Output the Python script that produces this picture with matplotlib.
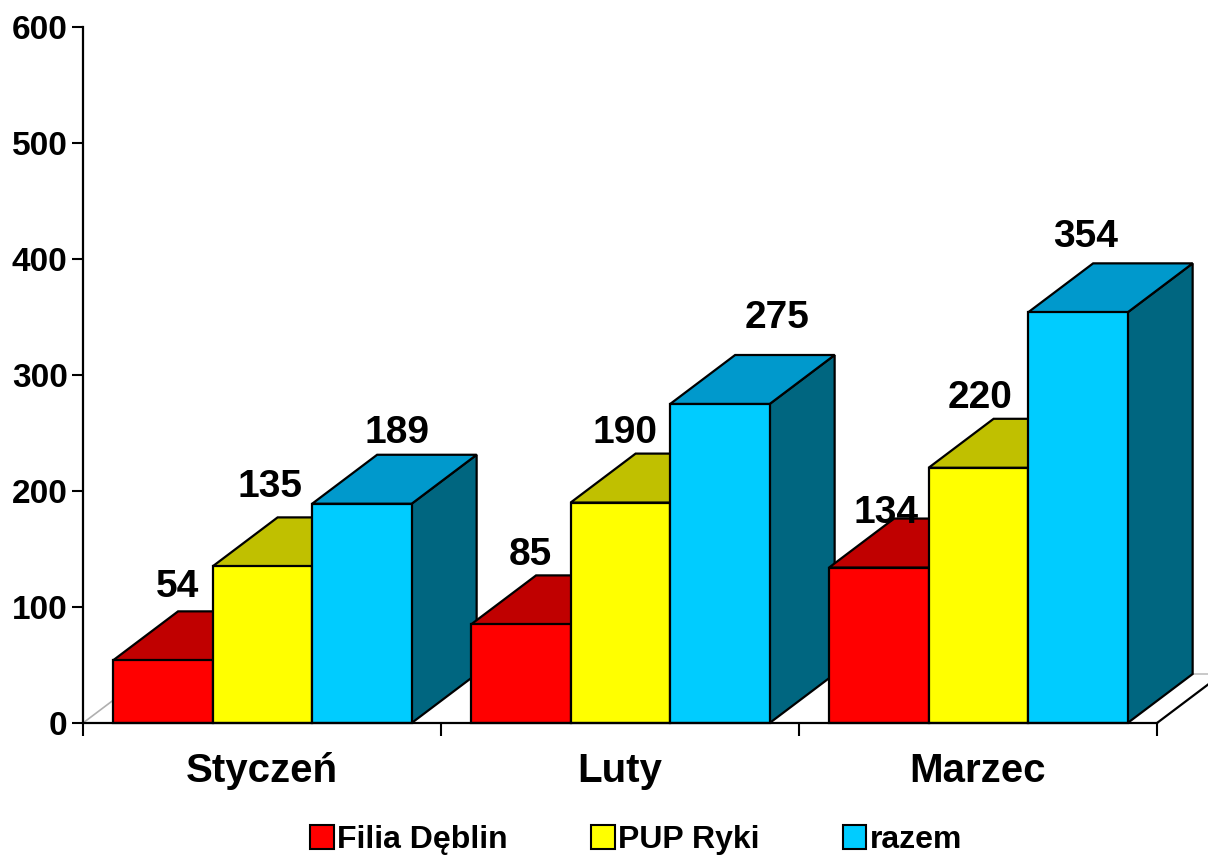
import numpy as np
import matplotlib
matplotlib.use('Agg')
import matplotlib.pyplot as plt
from matplotlib.patches import Polygon, Patch

plt.rcParams['font.family'] = ['Liberation Sans', 'DejaVu Sans']
plt.rcParams['font.weight'] = 'bold'

# data
months = ['Styczeń', 'Luty', 'Marzec']
series = ['Filia Dęblin', 'PUP Ryki', 'razem']
filia = [54, 85, 134]
pup = [135, 190, 220]
razem = [189, 275, 354]
values = [filia, pup, razem]

# colours: front, top, side
front_col = ['#FF0000', '#FFFF00', '#00CCFF']
top_col = ['#C00000', '#C0C000', '#0099CC']
side_col = ['#800000', '#808000', '#006680']

# label nudges in pixels (x right, y above front top)
lab_dx = [[15, 10, 7], [8, 5, 2], [35, 57, 8]]
lab_dy = [[63, 59, 45], [69, 60, 60], [61, 76, 65]]

W, H = 1208, 857
fig = plt.figure(figsize=(W / 100, H / 100), dpi=100)
ax = fig.add_axes([83 / W, (H - 723) / H, (1157 - 83) / W, 696 / H])
ax.set_xlim(0, 3)
ax.set_ylim(0, 600)

# depth of the pseudo 3d in pixels -> data units
px_x = 3 / (1157 - 83)
px_y = 600 / 696
ddx = 65 * px_x
ddy = 49 * px_y

bar_w = 0.278
gap = 0.084
lw = 1.6

# floor
floor = Polygon([(0, 0), (3, 0), (3 + ddx, ddy), (ddx, ddy)], closed=True,
                facecolor='white', edgecolor='none', zorder=1, clip_on=False)
ax.add_patch(floor)
ax.plot([0, ddx], [0, ddy], color='#b0b0b0', lw=1.2, zorder=1, clip_on=False)
ax.plot([ddx, 3 + ddx], [ddy, ddy], color='#c0c0c0', lw=1.2, zorder=1, clip_on=False)
ax.plot([3, 3 + ddx], [0, ddy], color='black', lw=lw, zorder=1, clip_on=False)

for i in range(len(months)):
    for j in range(len(series)):
        v = values[j][i]
        x0 = i + gap + j * bar_w
        x1 = x0 + bar_w
        side = Polygon([(x1, 0), (x1 + ddx, ddy), (x1 + ddx, v + ddy), (x1, v)],
                       closed=True, facecolor=side_col[j], edgecolor='black',
                       lw=lw, zorder=2 + i * 3 + j, clip_on=False, joinstyle='miter')
        top = Polygon([(x0, v), (x1, v), (x1 + ddx, v + ddy), (x0 + ddx, v + ddy)],
                      closed=True, facecolor=top_col[j], edgecolor='black',
                      lw=lw, zorder=2 + i * 3 + j, clip_on=False, joinstyle='miter')
        front = Polygon([(x0, 0), (x1, 0), (x1, v), (x0, v)], closed=True,
                        facecolor=front_col[j], edgecolor='black', lw=lw,
                        zorder=2 + i * 3 + j, clip_on=False, joinstyle='miter')
        ax.add_patch(side)
        ax.add_patch(top)
        ax.add_patch(front)
        ax.annotate(str(v), xy=((x0 + x1) / 2, v),
                    xytext=(lab_dx[j][i] * 0.72, lab_dy[j][i] * 0.72),
                    textcoords='offset points', ha='center', va='baseline',
                    fontsize=28, fontweight='bold', zorder=30)

# axes
for s in ['top', 'right']:
    ax.spines[s].set_visible(False)
ax.spines['left'].set_linewidth(1.6)
ax.spines['bottom'].set_linewidth(1.6)
ax.spines['left'].set_zorder(40)
ax.spines['bottom'].set_zorder(40)

ax.set_yticks(np.arange(0, 601, 100))
ax.tick_params(axis='y', direction='out', length=8, width=1.5, pad=3,
               labelsize=24)
for t in ax.get_yticklabels():
    t.set_fontweight('bold')

ax.set_xticks([0, 1, 2, 3])
ax.set_xticklabels([])
ax.tick_params(axis='x', which='major', direction='out', length=9, width=1.5)
ax.set_xticks([0.5, 1.5, 2.5], minor=True)
ax.set_xticklabels(months, minor=True, fontsize=29, fontweight='bold')
ax.tick_params(axis='x', which='minor', length=0, pad=21)

handles = [Patch(facecolor=c, edgecolor='black', lw=1.5) for c in front_col]
fig.legend(handles, series, loc='center', bbox_to_anchor=(636 / W, (H - 840) / H),
           ncol=3, frameon=False, prop={'size': 23, 'weight': 'bold'},
           handlelength=0.75, handleheight=0.75, handletextpad=0.1,
           columnspacing=2.6)

fig.savefig('out.png', dpi=100)
